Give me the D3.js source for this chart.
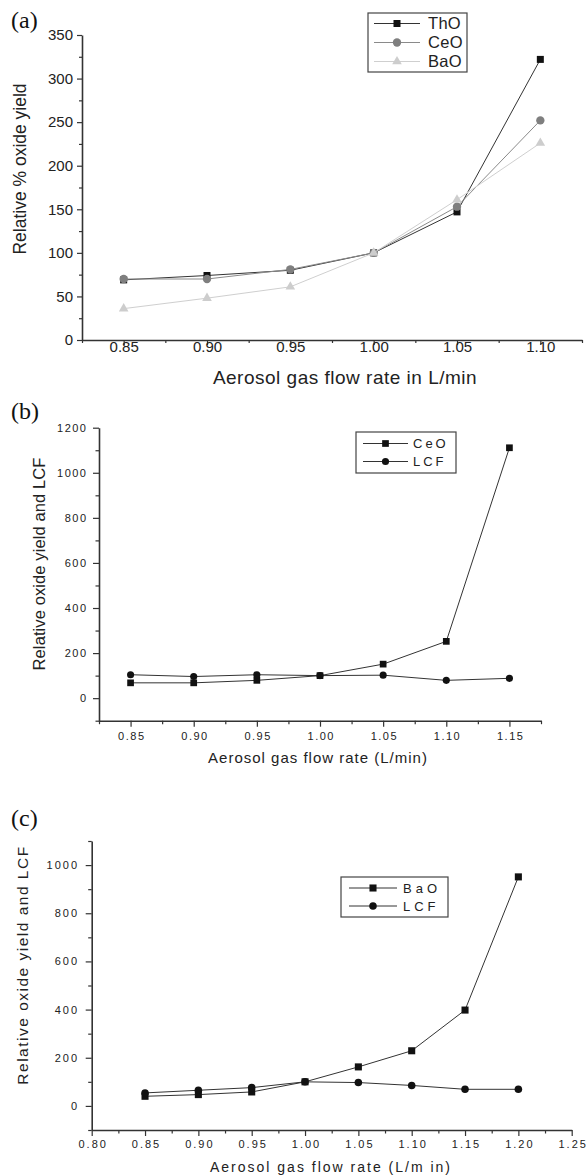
<!DOCTYPE html>
<html>
<head>
<meta charset="utf-8">
<script src="https://cdn.jsdelivr.net/npm/d3@7"></script>
<style>
  body { margin: 0; background: #fff; }
  text { font-family: 'Liberation Sans', Arial, sans-serif; fill: #222; }
</style>
</head>
<body>
<div id="chart"></div>
<script>
'use strict'

// ---- panel (a) ----
const flowA = [0.85, 0.90, 0.95, 1.00, 1.05, 1.10]
const thoA = [69, 74, 80, 100, 147, 322]
const ceoA = [70, 70, 81, 100, 153, 252]
const baoA = [36, 48, 61, 100, 161, 226]
const xTicksA = [0.85, 0.90, 0.95, 1.00, 1.05, 1.10]
const yTicksA = [0, 50, 100, 150, 200, 250, 300, 350]

// ---- panel (b) ----
const flowB = [0.85, 0.90, 0.95, 1.00, 1.05, 1.10, 1.15]
const ceoB = [68, 68, 79, 100, 151, 252, 1111]
const lcfB = [104, 96, 104, 100, 102, 79, 88]
const xTicksB = [0.85, 0.90, 0.95, 1.00, 1.05, 1.10, 1.15]
const yTicksB = [0, 200, 400, 600, 800, 1000, 1200]

// ---- panel (c) ----
const flowC = [0.85, 0.90, 0.95, 1.00, 1.05, 1.10, 1.15, 1.20]
const baoC = [40, 47, 58, 100, 162, 229, 398, 951]
const lcfC = [54, 65, 76, 100, 97, 85, 69, 69]
const xTicksC = [0.80, 0.85, 0.90, 0.95, 1.00, 1.05, 1.10, 1.15, 1.20, 1.25]
const yTicksC = [0, 200, 400, 600, 800, 1000]

const W = 587
const H = 1175

const svg = d3.select('#chart').append('svg')
  .attr('width', W)
  .attr('height', H)

// minor ticks halfway between the major ones
function halves (ticks, lo, hi) {
  let step = ticks[1] - ticks[0]
  let out = []
  for (let v = ticks[0] - step / 2; v <= hi + 1e-9; v += step) {
    if (v >= lo - 1e-9) out.push(+v.toFixed(4))
  }
  return out
}

function drawPanel (p) {
  const x = d3.scaleLinear().domain(p.xDomain).range([p.left, p.right])
  const y = d3.scaleLinear().domain(p.yDomain).range([p.bottom, p.top])
  const g = svg.append('g')

  // minor ticks
  g.append('g')
    .attr('transform', 'translate(0,' + p.bottom + ')')
    .call(d3.axisBottom(x).tickValues(halves(p.xTicks, p.xDomain[0], p.xDomain[1]))
      .tickSize(p.minorTick).tickSizeOuter(0).tickFormat(''))
    .call(a => a.select('.domain').remove())
  g.append('g')
    .attr('transform', 'translate(' + p.left + ',0)')
    .call(d3.axisLeft(y).tickValues(halves(p.yTicks, p.yDomain[0], p.yDomain[1]))
      .tickSize(p.minorTick).tickSizeOuter(0).tickFormat(''))
    .call(a => a.select('.domain').remove())

  // major x axis
  const xa = g.append('g')
    .attr('transform', 'translate(0,' + p.bottom + ')')
    .call(d3.axisBottom(x).tickValues(p.xTicks).tickSize(p.majorTick)
      .tickSizeOuter(0).tickFormat(d3.format('.2f')))
  xa.selectAll('text')
    .attr('y', p.xLabelY - p.bottom)
    .attr('dy', 0)
    .attr('dx', p.tickLs / 2)
    .style('font-size', p.tickFont + 'px')
    .style('letter-spacing', p.tickLs + 'px')
    .style('fill', '#222')

  // major y axis
  const ya = g.append('g')
    .attr('transform', 'translate(' + p.left + ',0)')
    .call(d3.axisLeft(y).tickValues(p.yTicks).tickSize(p.majorTick)
      .tickSizeOuter(0).tickFormat(d3.format('d')))
  ya.selectAll('text')
    .attr('x', p.yLabelX - p.left)
    .attr('dx', p.tickLs)
    .style('font-size', p.tickFont + 'px')
    .style('letter-spacing', p.tickLs + 'px')
    .style('fill', '#222')

  g.selectAll('.domain').attr('stroke', '#333').attr('stroke-width', 1.6)
  g.selectAll('.tick line').attr('stroke', '#333').attr('stroke-width', 1.2)

  // axis titles
  g.append('text')
    .attr('x', p.xTitle[0])
    .attr('y', p.xTitle[1])
    .attr('text-anchor', 'middle')
    .style('font-size', p.xTitleFont + 'px')
    .style('letter-spacing', p.xTitleLs + 'px')
    .text(p.xTitleText)
  g.append('text')
    .attr('transform', 'translate(' + p.yTitle[0] + ',' + p.yTitle[1] + ') rotate(-90)')
    .attr('text-anchor', 'middle')
    .style('font-size', p.yTitleFont + 'px')
    .style('letter-spacing', p.yTitleLs + 'px')
    .text(p.yTitleText)

  // panel letter
  g.append('text')
    .attr('x', 11)
    .attr('y', p.letterY)
    .style('font-family', "'Liberation Serif', 'Times New Roman', serif")
    .style('font-size', '24px')
    .style('fill', '#111')
    .text(p.letter)

  // series
  p.series.forEach(s => {
    const pts = p.flow.map((f, i) => [x(f), y(s.values[i])])
    g.append('path')
      .attr('d', d3.line()(pts))
      .attr('fill', 'none')
      .attr('stroke', s.line)
      .attr('stroke-width', 1)
    g.selectAll(null)
      .data(pts)
      .join('path')
      .attr('transform', d => 'translate(' + d[0] + ',' + d[1] + ')')
      .attr('d', d3.symbol().type(s.symbol).size(s.size))
      .attr('fill', s.fill)
  })

  // legend
  const L = p.legend
  g.append('rect')
    .attr('x', L.x0)
    .attr('y', L.y0)
    .attr('width', L.x1 - L.x0)
    .attr('height', L.y1 - L.y0)
    .attr('fill', '#fff')
    .attr('stroke', '#444')
    .attr('stroke-width', 1.2)
  p.series.forEach((s, i) => {
    const ry = L.rows[i]
    g.append('line')
      .attr('x1', L.lineX[0]).attr('x2', L.lineX[1])
      .attr('y1', ry).attr('y2', ry)
      .attr('stroke', s.line)
      .attr('stroke-width', 1)
    g.append('path')
      .attr('transform', 'translate(' + (L.lineX[0] + L.lineX[1]) / 2 + ',' + ry + ')')
      .attr('d', d3.symbol().type(s.symbol).size(s.size))
      .attr('fill', s.fill)
    g.append('text')
      .attr('x', L.textX)
      .attr('y', ry)
      .attr('dy', '0.36em')
      .style('font-size', L.font + 'px')
      .style('letter-spacing', L.ls + 'px')
      .text(s.name)
  })
}

drawPanel({
  letter: '(a)', letterY: 28,
  flow: flowA, xTicks: xTicksA, yTicks: yTicksA,
  xDomain: [0.825, 1.125], yDomain: [0, 350],
  left: 82, right: 582, top: 35, bottom: 340,
  majorTick: 5, minorTick: 3,
  tickFont: 15, tickLs: 0, xLabelY: 352, yLabelX: 73,
  xTitleText: 'Aerosol gas flow rate in L/min', xTitle: [345, 384], xTitleFont: 19, xTitleLs: 0.5,
  yTitleText: 'Relative % oxide yield', yTitle: [26, 169], yTitleFont: 17.5, yTitleLs: 0,
  series: [
    { name: 'ThO', values: thoA, symbol: d3.symbolSquare, size: 49, fill: '#111', line: '#333' },
    { name: 'CeO', values: ceoA, symbol: d3.symbolCircle, size: 55, fill: '#7f7f7f', line: '#8a8a8a' },
    { name: 'BaO', values: baoA, symbol: d3.symbolTriangle, size: 40, fill: '#cdcdcd', line: '#cfcfcf' }
  ],
  legend: { x0: 368, y0: 13, x1: 467, y1: 72, rows: [23.5, 42.5, 61.5], lineX: [374, 420], textX: 428, font: 16.5, ls: 0.3 }
})

drawPanel({
  letter: '(b)', letterY: 419,
  flow: flowB, xTicks: xTicksB, yTicks: yTicksB,
  xDomain: [0.825, 1.175], yDomain: [-100, 1200],
  left: 99, right: 541, top: 427.7, bottom: 720.7,
  majorTick: 6, minorTick: 3.5,
  tickFont: 11, tickLs: 1.5, xLabelY: 740, yLabelX: 86,
  xTitleText: 'Aerosol gas flow rate (L/min)', xTitle: [318, 763], xTitleFont: 15, xTitleLs: 1,
  yTitleText: 'Relative oxide yield and LCF', yTitle: [45, 564], yTitleFont: 16.5, yTitleLs: 0.1,
  series: [
    { name: 'CeO', values: ceoB, symbol: d3.symbolSquare, size: 45, fill: '#111', line: '#333' },
    { name: 'LCF', values: lcfB, symbol: d3.symbolCircle, size: 40, fill: '#111', line: '#333' }
  ],
  legend: { x0: 356, y0: 432, x1: 456, y1: 473, rows: [443.5, 461.5], lineX: [363, 408], textX: 413, font: 13, ls: 3 }
})

drawPanel({
  letter: '(c)', letterY: 826,
  flow: flowC, xTicks: xTicksC, yTicks: yTicksC,
  xDomain: [0.80, 1.25], yDomain: [-100, 1100],
  left: 91.7, right: 571.7, top: 841, bottom: 1130,
  majorTick: 6, minorTick: 3.5,
  tickFont: 11, tickLs: 2, xLabelY: 1148, yLabelX: 77,
  xTitleText: 'Aerosol gas flow rate (L/m in)', xTitle: [331, 1172], xTitleFont: 14, xTitleLs: 2,
  yTitleText: 'Relative oxide yield and LCF', yTitle: [28, 965], yTitleFont: 15.5, yTitleLs: 1.5,
  series: [
    { name: 'BaO', values: baoC, symbol: d3.symbolSquare, size: 50, fill: '#111', line: '#333' },
    { name: 'LCF', values: lcfC, symbol: d3.symbolCircle, size: 45, fill: '#111', line: '#333' }
  ],
  legend: { x0: 341, y0: 877, x1: 448, y1: 917, rows: [888, 906], lineX: [349, 397], textX: 403, font: 13, ls: 4 }
})
</script>
</body>
</html>
